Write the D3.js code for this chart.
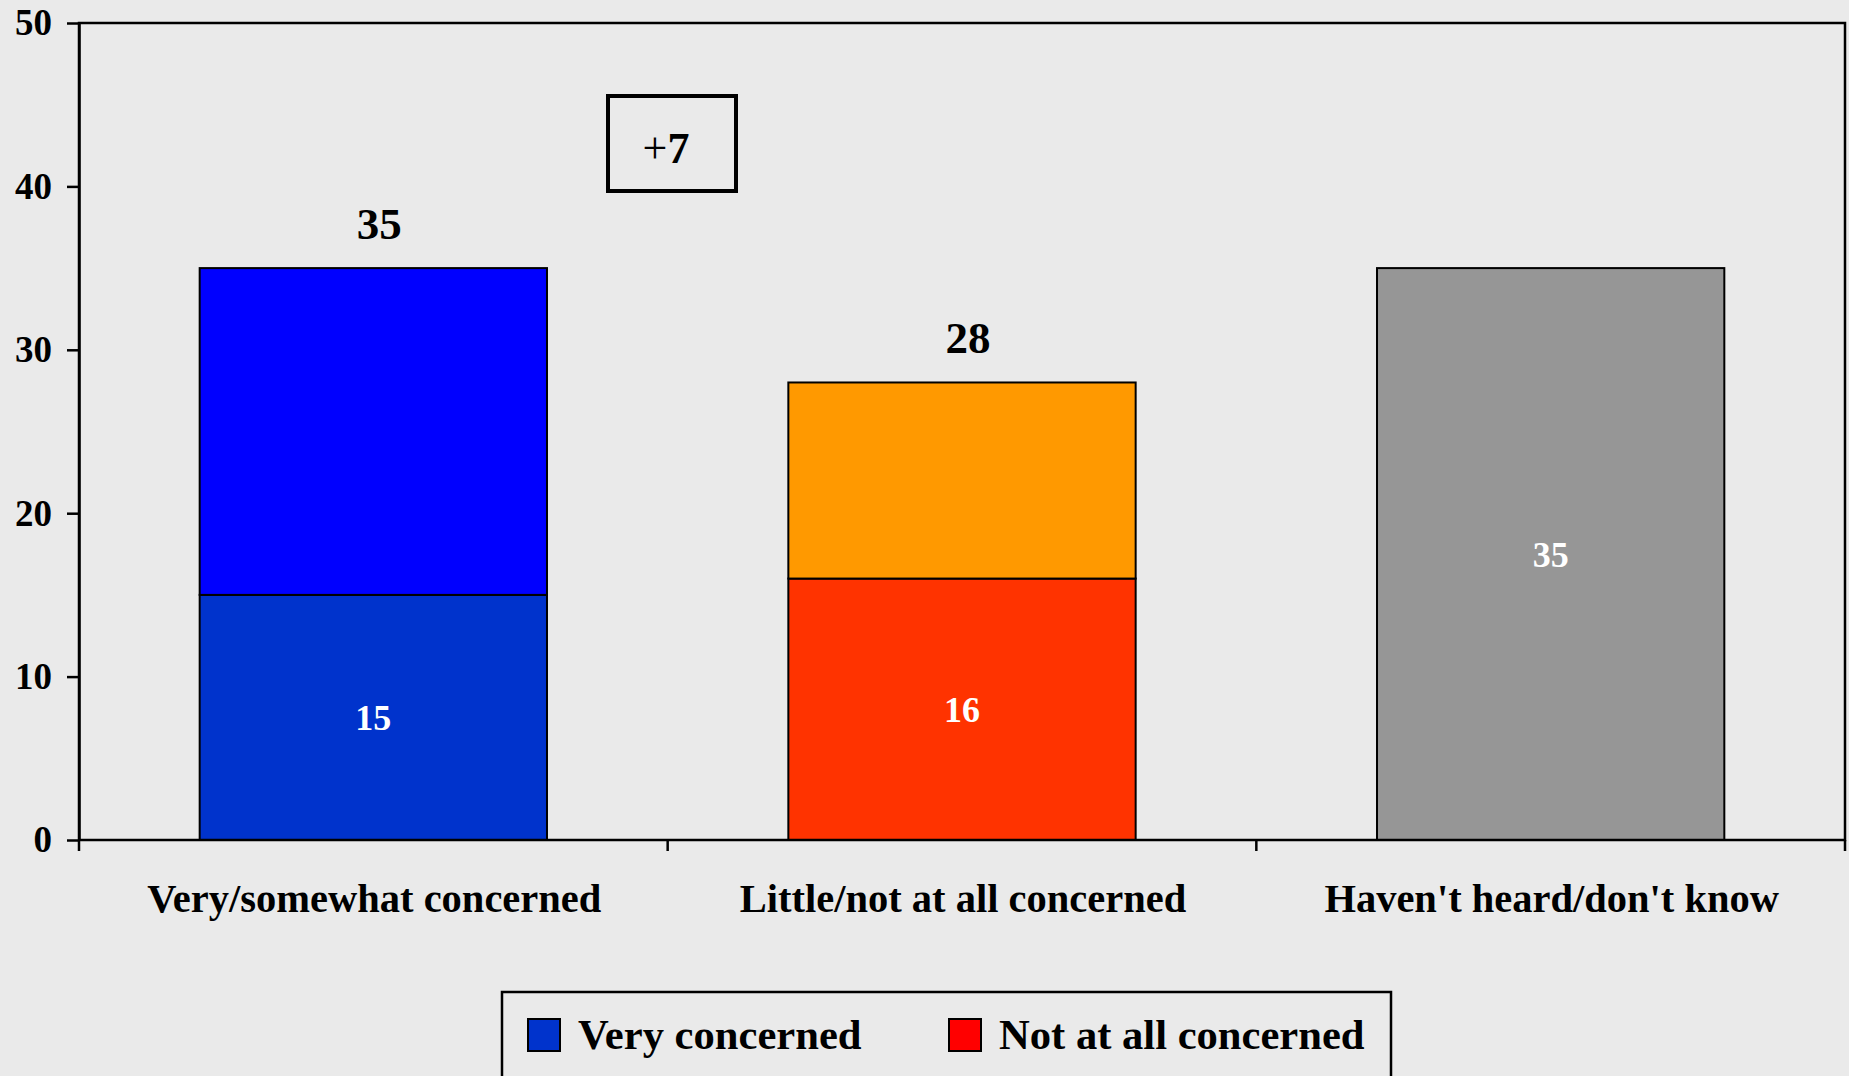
<!DOCTYPE html>
<html>
<head>
<meta charset="utf-8">
<script src="https://cdn.jsdelivr.net/npm/d3@7"></script>
<style>
  html, body { margin: 0; padding: 0; background: #EAEAEA; overflow: hidden; }
  svg { display: block; }
  text { font-family: "Liberation Serif", "Times New Roman", serif; }
</style>
</head>
<body>
<svg id="chart" width="1849" height="1076"></svg>
<script>
// ---- data ----
const categories = ["Very/somewhat concerned", "Little/not at all concerned", "Haven't heard/don't know"];
const bottomValues = [15, 16, 35];
const totalValues = [35, 28, 35];
const showTotals = [true, true, false];
const yTicks = [0, 10, 20, 30, 40, 50];
const legendLabels = ["Very concerned", "Not at all concerned"];
const gapLabel = "+7";

// ---- styles ----
const bottomColors = ["#0033CC", "#FF3300", "#969696"];
const topColors = ["#0000FF", "#FF9900", "#969696"];
const legendColors = ["#0033CC", "#FF0000"];

const svg = d3.select("#chart");
svg.append("rect").attr("width", 1849).attr("height", 1076).attr("fill", "#EAEAEA");

const plotLeft = 79, plotRight = 1845, plotTop = 23, plotBottom = 840;

const x = d3.scaleBand().domain(categories).range([plotLeft, plotRight])
  .paddingInner(0.41).paddingOuter(0.205);
const y = d3.scaleLinear().domain([0, 50]).range([plotBottom, plotTop]);

const rows = categories.map((c, i) => ({
  cat: c, bottom: bottomValues[i], total: totalValues[i], showTotal: showTotals[i], i
}));

// bars: bottom segments
const g = svg.append("g");
g.selectAll("rect.bot").data(rows).join("rect")
  .attr("class", "bot")
  .attr("x", d => x(d.cat))
  .attr("width", x.bandwidth())
  .attr("y", d => y(d.bottom))
  .attr("height", d => y(0) - y(d.bottom))
  .attr("fill", d => bottomColors[d.i])
  .attr("stroke", "#000").attr("stroke-width", 2);

// top segments
g.selectAll("rect.top").data(rows.filter(d => d.total > d.bottom)).join("rect")
  .attr("class", "top")
  .attr("x", d => x(d.cat))
  .attr("width", x.bandwidth())
  .attr("y", d => y(d.total))
  .attr("height", d => y(d.bottom) - y(d.total))
  .attr("fill", d => topColors[d.i])
  .attr("stroke", "#000").attr("stroke-width", 2);

// inside labels
g.selectAll("text.inner").data(rows).join("text")
  .attr("class", "inner")
  .attr("x", d => x(d.cat) + x.bandwidth() / 2)
  .attr("y", d => (y(0) + y(d.bottom)) / 2)
  .attr("dy", "0.35em")
  .attr("text-anchor", "middle")
  .attr("fill", "#fff")
  .attr("font-weight", "bold")
  .attr("font-size", 36)
  .text(d => d.bottom);

// total labels
g.selectAll("text.total").data(rows.filter(d => d.showTotal)).join("text")
  .attr("class", "total")
  .attr("x", d => x(d.cat) + x.bandwidth() / 2 + 6)
  .attr("y", d => y(d.total) - 29)
  .attr("text-anchor", "middle")
  .attr("fill", "#000")
  .attr("font-weight", "bold")
  .attr("font-size", 45)
  .text(d => d.total);

// frame
svg.append("rect")
  .attr("x", plotLeft).attr("y", plotTop)
  .attr("width", plotRight - plotLeft).attr("height", plotBottom - plotTop)
  .attr("fill", "none").attr("stroke", "#000").attr("stroke-width", 2.5);

// y axis
const yAxis = d3.axisLeft(y).tickValues(yTicks).tickSize(12).tickPadding(15).tickSizeOuter(0);
const ya = svg.append("g").attr("transform", `translate(${plotLeft},0)`).call(yAxis);
ya.select(".domain").attr("stroke", "#000").attr("stroke-width", 2.5);
ya.selectAll(".tick line").attr("stroke", "#000").attr("stroke-width", 2.5);
ya.selectAll(".tick text")
  .attr("font-family", "Liberation Serif, Times New Roman, serif")
  .attr("font-weight", "bold").attr("font-size", 37).attr("fill", "#000");

// x axis: boundary ticks
const edges = d3.range(categories.length + 1).map(i => plotLeft + i * x.step());
svg.append("g").selectAll("line").data(edges).join("line")
  .attr("x1", d => d).attr("x2", d => d)
  .attr("y1", plotBottom).attr("y2", plotBottom + 11)
  .attr("stroke", "#000").attr("stroke-width", 2.5);

// category labels
svg.append("g").selectAll("text").data(categories).join("text")
  .attr("x", d => x(d) + x.bandwidth() / 2 + 1)
  .attr("y", 912)
  .attr("text-anchor", "middle")
  .attr("font-weight", "bold").attr("font-size", 40.5).attr("fill", "#000")
  .text(d => d);

// +7 box
svg.append("rect")
  .attr("x", 608).attr("y", 96).attr("width", 128).attr("height", 95)
  .attr("fill", "none").attr("stroke", "#000").attr("stroke-width", 4);
const gt = svg.append("text")
  .attr("x", 666).attr("y", 163).attr("text-anchor", "middle")
  .attr("font-size", 44).attr("fill", "#000");
gt.append("tspan").attr("font-weight", "normal").text(gapLabel.slice(0, 1));
gt.append("tspan").attr("font-weight", "bold").text(gapLabel.slice(1));

// legend
svg.append("rect")
  .attr("x", 502).attr("y", 992).attr("width", 889).attr("height", 100)
  .attr("fill", "none").attr("stroke", "#000").attr("stroke-width", 2.5);
const legendX = [528, 949];
const lg = svg.append("g").selectAll("g").data(legendLabels).join("g")
  .attr("transform", (d, i) => `translate(${legendX[i]},1019)`);
lg.append("rect").attr("width", 32).attr("height", 32)
  .attr("fill", (d, i) => legendColors[i]).attr("stroke", "#000").attr("stroke-width", 2);
lg.append("text").attr("x", 50).attr("y", 30)
  .attr("font-weight", "bold").attr("font-size", 42.6).attr("fill", "#000")
  .text(d => d);
</script>
</body>
</html>
